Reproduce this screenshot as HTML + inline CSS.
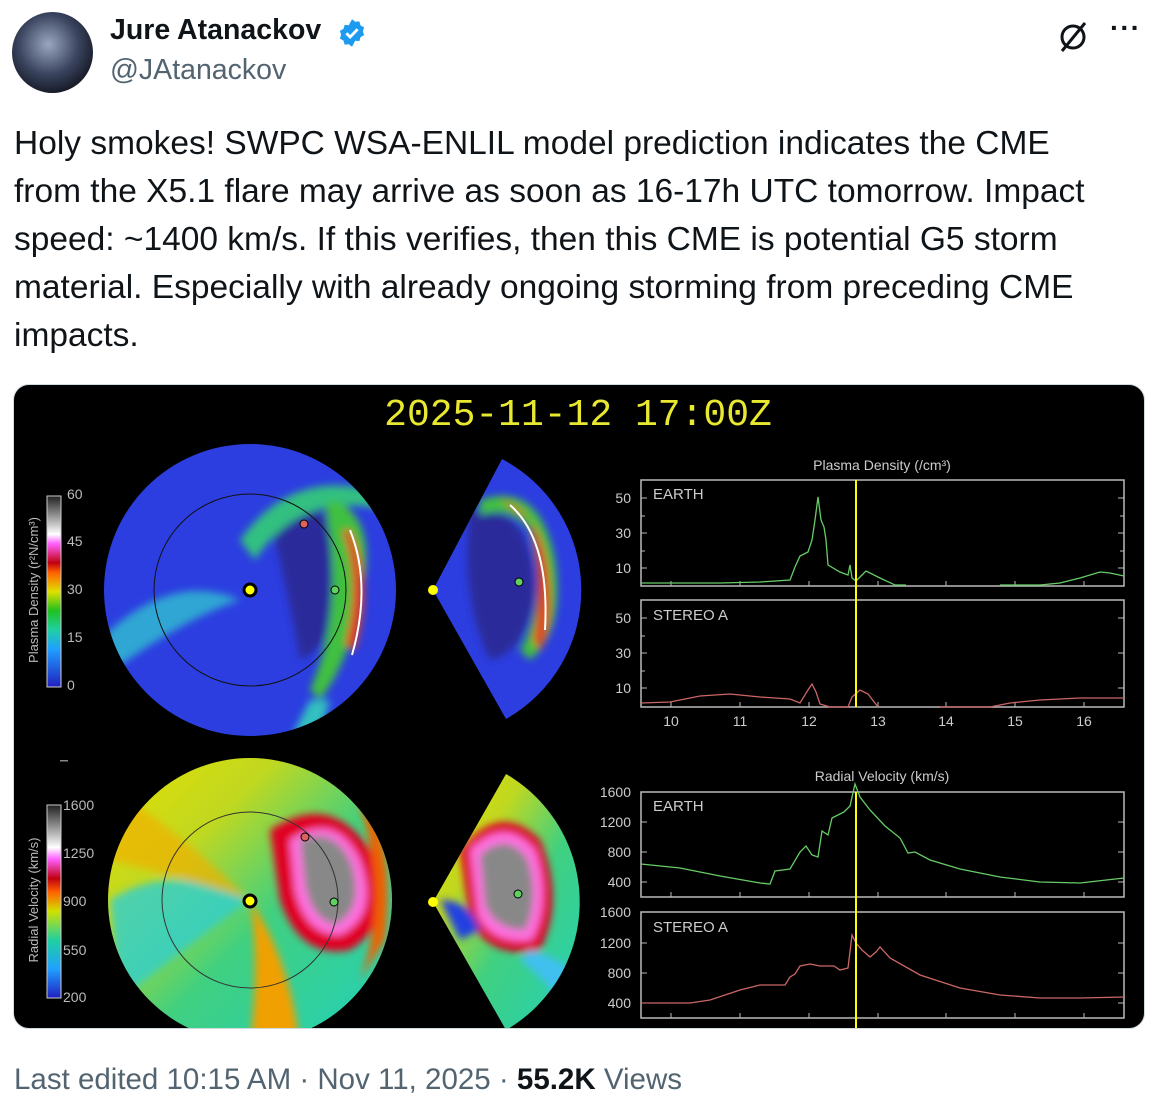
<!DOCTYPE html>
<html><head><meta charset="utf-8"><style>
body{margin:0;background:#fff;width:1158px;height:1110px;overflow:hidden;font-family:"Liberation Sans",sans-serif;color:#0f1419;position:relative}
.a{position:absolute}
</style></head><body>
<div class="a" style="left:12px;top:12px;width:81px;height:81px;border-radius:50%;background:radial-gradient(circle at 45% 40%,#9aa6c0,#3b4560 45%,#10131d 80%)"></div>
<div class="a" style="left:110px;top:14px;font-size:28.5px;font-weight:bold">Jure Atanackov</div>
<svg class="a" style="left:337px;top:18px" width="30" height="30" viewBox="0 0 24 24"><path fill="#1d9bf0" d="M12 1l2.6 2 3.3-.3.9 3.2 2.9 1.6-1 3.1 1 3.1-2.9 1.6-.9 3.2-3.3-.3L12 23l-2.6-2-3.3.3-.9-3.2-2.9-1.6 1-3.1-1-3.1 2.9-1.6.9-3.2 3.3.3z"/><path d="M7.5 12.2l3 3 6-6.2" stroke="#fff" stroke-width="2.2" fill="none"/></svg>
<div class="a" style="left:110px;top:54px;font-size:28.5px;color:#536471">@JAtanackov</div>
<svg class="a" style="left:1056px;top:20px" width="34" height="34" viewBox="0 0 34 34"><circle cx="17" cy="17" r="11" stroke="#0f1419" stroke-width="3" fill="none"/><line x1="6" y1="31" x2="29" y2="3" stroke="#0f1419" stroke-width="3"/></svg>
<div class="a" style="left:1110px;top:12px;font-size:28px;font-weight:bold;letter-spacing:1px">···</div>
<div class="a" style="left:14px;top:120px;width:1140px;font-size:33.5px;line-height:48px;white-space:nowrap">Holy smokes! SWPC WSA-ENLIL model prediction indicates the CME<br>from the X5.1 flare may arrive as soon as 16-17h UTC tomorrow. Impact<br>speed: ~1400 km/s. If this verifies, then this CME is potential G5 storm<br>material. Especially with already ongoing storming from preceding CME<br>impacts.</div>

<div class="a" style="left:13px;top:384px;width:1130px;height:643px;border:1px solid #cfd9de;border-radius:16px;overflow:hidden;background:#000">
<svg width="1130" height="643" viewBox="14 385 1130 643" style="display:block">
<defs>
<filter id="bl" x="-20%" y="-20%" width="140%" height="140%"><feGaussianBlur stdDeviation="4"/></filter>
<clipPath id="c1"><circle cx="250" cy="590" r="146"/></clipPath>
<clipPath id="w1"><path d="M433 590 L502 459 A148 148 0 0 1 506 719 Z"/></clipPath>
<clipPath id="c2"><circle cx="250" cy="900" r="142"/></clipPath>
<clipPath id="w2"><path d="M433 902 L506 774 A148 148 0 0 1 506 1030 Z"/></clipPath>
<linearGradient id="cbd" x1="0" y1="1" x2="0" y2="0"><stop offset="0" stop-color="#2020c0"/><stop offset=".2" stop-color="#20a0ff"/><stop offset=".3" stop-color="#20d0a0"/><stop offset=".4" stop-color="#20c020"/><stop offset=".5" stop-color="#e0e000"/><stop offset=".6" stop-color="#ff6000"/><stop offset=".65" stop-color="#c00010"/><stop offset=".75" stop-color="#ff60ff"/><stop offset=".8" stop-color="#fff"/><stop offset="1" stop-color="#202020"/></linearGradient>
<linearGradient id="vel" x1="0" y1="0" x2="1" y2="1"><stop offset="0" stop-color="#e8e000"/><stop offset=".3" stop-color="#c0d820"/><stop offset=".55" stop-color="#40d080"/><stop offset="1" stop-color="#20d0c0"/></linearGradient>
</defs>
<text x="578" y="425" fill="#e8e830" font-family="Liberation Mono,monospace" font-size="38" text-anchor="middle">2025-11-12 17:00Z</text>

<g clip-path="url(#c1)">
<rect x="100" y="440" width="300" height="300" fill="#2c3ee0"/>
<g filter="url(#bl)">
<path d="M270 520 Q330 480 340 560 Q345 640 300 660 Q290 600 270 520Z" fill="#2a2a9a"/>
<path d="M100 640 Q170 570 240 600 Q180 620 100 680Z" fill="#30c0d0" opacity=".8"/>
<path d="M240 540 Q290 470 370 490 L385 510 Q300 490 255 560Z" fill="#30c080"/>
<path d="M335 500 Q380 520 360 600 Q350 660 320 700 L310 690 Q345 610 325 505Z" fill="#40c040"/>
<path d="M350 530 Q375 580 355 650 L345 645 Q362 580 342 530Z" fill="#e04020"/>
<path d="M310 700 Q300 720 290 740 L320 740 Q325 715 330 700Z" fill="#30c0c0"/>
</g>
<path d="M350 530 Q372 585 352 655" stroke="#fff" stroke-width="2" fill="none"/>
</g>
<circle cx="250" cy="590" r="96" stroke="#111" fill="none" stroke-width="1"/>
<circle cx="250" cy="590" r="6" fill="#ff0" stroke="#000" stroke-width="3"/>
<circle cx="304" cy="524" r="4" fill="#e06060" stroke="#000"/>
<circle cx="335" cy="590" r="4" fill="#60d060" stroke="#000"/>
<g clip-path="url(#w1)">
<rect x="430" y="455" width="160" height="270" fill="#2c3ee0"/>
<g filter="url(#bl)">
<path d="M470 510 Q530 500 535 590 Q530 650 490 660 Q460 600 470 510Z" fill="#2a2a9a"/>
<path d="M480 500 Q540 480 555 560 Q565 630 530 660 L520 650 Q550 600 530 530 Q510 505 480 515Z" fill="#40c040"/>
<path d="M500 500 Q545 510 550 590 Q552 630 540 650 L533 640 Q545 580 530 520Z" fill="#e04020"/>
</g>
<path d="M510 505 Q550 540 545 630" stroke="#fff" stroke-width="2" fill="none"/>
</g>
<circle cx="433" cy="590" r="5" fill="#ff0"/>
<circle cx="519" cy="582" r="4" fill="#60d060" stroke="#000"/>
<rect x="47" y="496" width="14" height="191" fill="url(#cbd)" stroke="#ccc"/>
<g fill="#bbb" font-size="14"><text x="67" y="499">60</text><text x="67" y="546">45</text><text x="67" y="594">30</text><text x="67" y="642">15</text><text x="67" y="690">0</text></g>
<text transform="translate(38,590) rotate(-90)" fill="#bbb" font-size="13" text-anchor="middle">Plasma Density (r²N/cm³)</text>
<rect x="60" y="760" width="8" height="1.5" fill="#888"/>

<g clip-path="url(#c2)">
<rect x="100" y="755" width="300" height="300" fill="url(#vel)"/>
<g filter="url(#bl)">
<path d="M110 900 Q170 860 250 900 Q170 960 120 1000Z" fill="#30d0d0" opacity=".8"/>
<path d="M250 900 Q290 960 300 1045 L250 1045 Q260 960 250 900Z" fill="#f0a000"/>
<path d="M130 800 Q200 850 250 900 Q190 880 110 860Z" fill="#f0b000" opacity=".7"/>
<path d="M270 830 Q330 790 370 850 Q400 920 350 950 Q300 960 280 900Z" fill="#e00020"/>
<path d="M290 840 Q335 810 360 860 Q380 915 340 935 Q305 935 295 890Z" fill="#ff70e0"/>
<path d="M300 840 Q335 825 352 865 Q365 910 335 925 Q312 920 305 885Z" fill="#888"/>
<path d="M370 800 Q395 860 385 940 L360 980 Q390 900 360 805Z" fill="#f06000"/>
</g>
</g>
<circle cx="250" cy="900" r="88" stroke="#333" fill="none"/>
<circle cx="250" cy="901" r="6" fill="#ff0" stroke="#000" stroke-width="3"/>
<circle cx="305" cy="837" r="4" fill="#e06060" stroke="#000"/>
<circle cx="334" cy="902" r="4" fill="#60d060" stroke="#000"/>
<g clip-path="url(#w2)">
<rect x="430" y="770" width="160" height="270" fill="url(#vel)"/>
<g filter="url(#bl)">
<path d="M460 850 Q500 800 540 840 Q565 900 540 950 Q490 960 470 920Z" fill="#e00020"/>
<path d="M470 850 Q505 815 535 850 Q552 900 532 940 Q492 945 478 915Z" fill="#ff70e0"/>
<path d="M480 855 Q508 830 528 860 Q540 900 525 930 Q495 930 485 905Z" fill="#888"/>
<path d="M440 900 Q470 900 480 930 L460 940Z" fill="#2040e0"/>
<path d="M530 950 Q570 960 590 990 L560 1000 Q540 975 520 960Z" fill="#40c0f0"/>
</g>
</g>
<circle cx="433" cy="902" r="5" fill="#ff0"/>
<circle cx="518" cy="894" r="4" fill="#60d060" stroke="#000"/>
<linearGradient id="cbv" x1="0" y1="1" x2="0" y2="0"><stop offset="0" stop-color="#2020c0"/><stop offset=".15" stop-color="#20a0ff"/><stop offset=".3" stop-color="#20d0a0"/><stop offset=".45" stop-color="#d0e000"/><stop offset=".55" stop-color="#ff6000"/><stop offset=".62" stop-color="#c00010"/><stop offset=".72" stop-color="#ff60ff"/><stop offset=".78" stop-color="#fff"/><stop offset="1" stop-color="#202020"/></linearGradient>
<rect x="47" y="805" width="14" height="193" fill="url(#cbv)" stroke="#ccc"/>
<g fill="#bbb" font-size="14"><text x="63" y="810">1600</text><text x="63" y="858">1250</text><text x="63" y="906">900</text><text x="63" y="955">550</text><text x="63" y="1002">200</text></g>
<text transform="translate(38,900) rotate(-90)" fill="#bbb" font-size="13" text-anchor="middle">Radial Velocity (km/s)</text>

<g font-size="14" fill="#ccc">
<text x="882" y="470" text-anchor="middle">Plasma Density (/cm³)</text>
<text x="882" y="781" text-anchor="middle">Radial Velocity (km/s)</text>
</g>
<g stroke="#bbb" fill="none" stroke-width="1.5">
<rect x="641" y="480" width="483" height="106"/>
<rect x="641" y="600" width="483" height="107"/>
<rect x="641" y="792" width="483" height="105"/>
<rect x="641" y="912" width="483" height="106"/>
</g>
<g stroke="#bbb" stroke-width="1">
<path d="M641 498h6M641 516h4M641 533h6M641 551h4M641 568h6M1124 498h-6M1124 533h-6M1124 568h-6M1124 516h-4M1124 551h-4"/>
<path d="M641 618h6M641 636h4M641 653h6M641 671h4M641 688h6M1124 618h-6M1124 653h-6M1124 688h-6"/>
<path d="M671 586v-5M740 586v-5M809 586v-5M878 586v-5M946 586v-5M1015 586v-5M1084 586v-5"/>
<path d="M671 707v-5M740 707v-5M809 707v-5M878 707v-5M946 707v-5M1015 707v-5M1084 707v-5"/>
<path d="M641 822h6M641 852h6M641 882h6M1124 822h-6M1124 852h-6M1124 882h-6"/>
<path d="M641 943h6M641 973h6M641 1003h6M1124 943h-6M1124 973h-6M1124 1003h-6"/>
<path d="M671 897v-5M740 897v-5M809 897v-5M878 897v-5M946 897v-5M1015 897v-5M1084 897v-5"/>
<path d="M671 1018v-5M740 1018v-5M809 1018v-5M878 1018v-5M946 1018v-5M1015 1018v-5M1084 1018v-5"/>
</g>
<g fill="#ccc" font-size="14" text-anchor="end">
<text x="631" y="503">50</text><text x="631" y="538">30</text><text x="631" y="573">10</text>
<text x="631" y="623">50</text><text x="631" y="658">30</text><text x="631" y="693">10</text>
<text x="631" y="797">1600</text><text x="631" y="827">1200</text><text x="631" y="857">800</text><text x="631" y="887">400</text>
<text x="631" y="917">1600</text><text x="631" y="948">1200</text><text x="631" y="978">800</text><text x="631" y="1008">400</text>
</g>
<g fill="#ccc" font-size="14" text-anchor="middle">
<text x="671" y="726">10</text><text x="740" y="726">11</text><text x="809" y="726">12</text><text x="878" y="726">13</text><text x="946" y="726">14</text><text x="1015" y="726">15</text><text x="1084" y="726">16</text>
</g>
<g fill="#ccc" font-size="15"><text x="653" y="499">EARTH</text><text x="653" y="620">STEREO A</text><text x="653" y="811">EARTH</text><text x="653" y="932">STEREO A</text></g>
<g fill="none" stroke-width="1.3">
<polyline stroke="#6c6" points="641,583 720,583 760,582 790,580 795,567 800,556 808,552 812,540 815,520 818,497 821,520 824,527 826,540 828,565 840,572 848,575 850,565 852,578 856,581 862,575 866,571 880,578 895,585 906,585"/>
<polyline stroke="#6c6" points="1000,585 1040,585 1060,583 1080,578 1100,572 1110,573 1124,576"/>
<polyline stroke="#c66" points="641,703 670,702 700,696 730,694 760,697 790,699 800,703 808,690 812,684 816,692 820,704 830,707 848,707 852,697 860,690 868,694 878,707"/>
<polyline stroke="#c66" points="940,707 990,707 1010,703 1040,700 1080,698 1124,698"/>
<polyline stroke="#6c6" points="641,864 680,868 720,876 760,883 770,884 775,871 790,869 800,852 806,846 812,855 818,857 822,831 828,835 832,818 844,812 850,806 855,784 860,797 870,810 885,826 900,838 908,853 915,852 930,860 960,869 1000,877 1040,882 1080,883 1124,878"/>
<polyline stroke="#c66" points="641,1003 690,1003 710,1000 740,990 760,985 785,985 790,977 795,974 800,966 810,964 820,966 834,966 840,970 848,968 852,935 856,943 862,950 870,957 876,952 880,947 890,958 920,975 960,988 1000,995 1040,998 1080,998 1124,997"/>
</g>
<line x1="856" y1="480" x2="856" y2="707" stroke="#ff0" stroke-width="2"/>
<line x1="856" y1="792" x2="856" y2="1028" stroke="#ff0" stroke-width="2"/>
</svg>
</div>
<div class="a" style="left:14px;top:1063px;font-size:29.5px;color:#536471">Last edited 10:15 AM · Nov 11, 2025 · <b style="color:#0f1419">55.2K</b> Views</div>
</body></html>
